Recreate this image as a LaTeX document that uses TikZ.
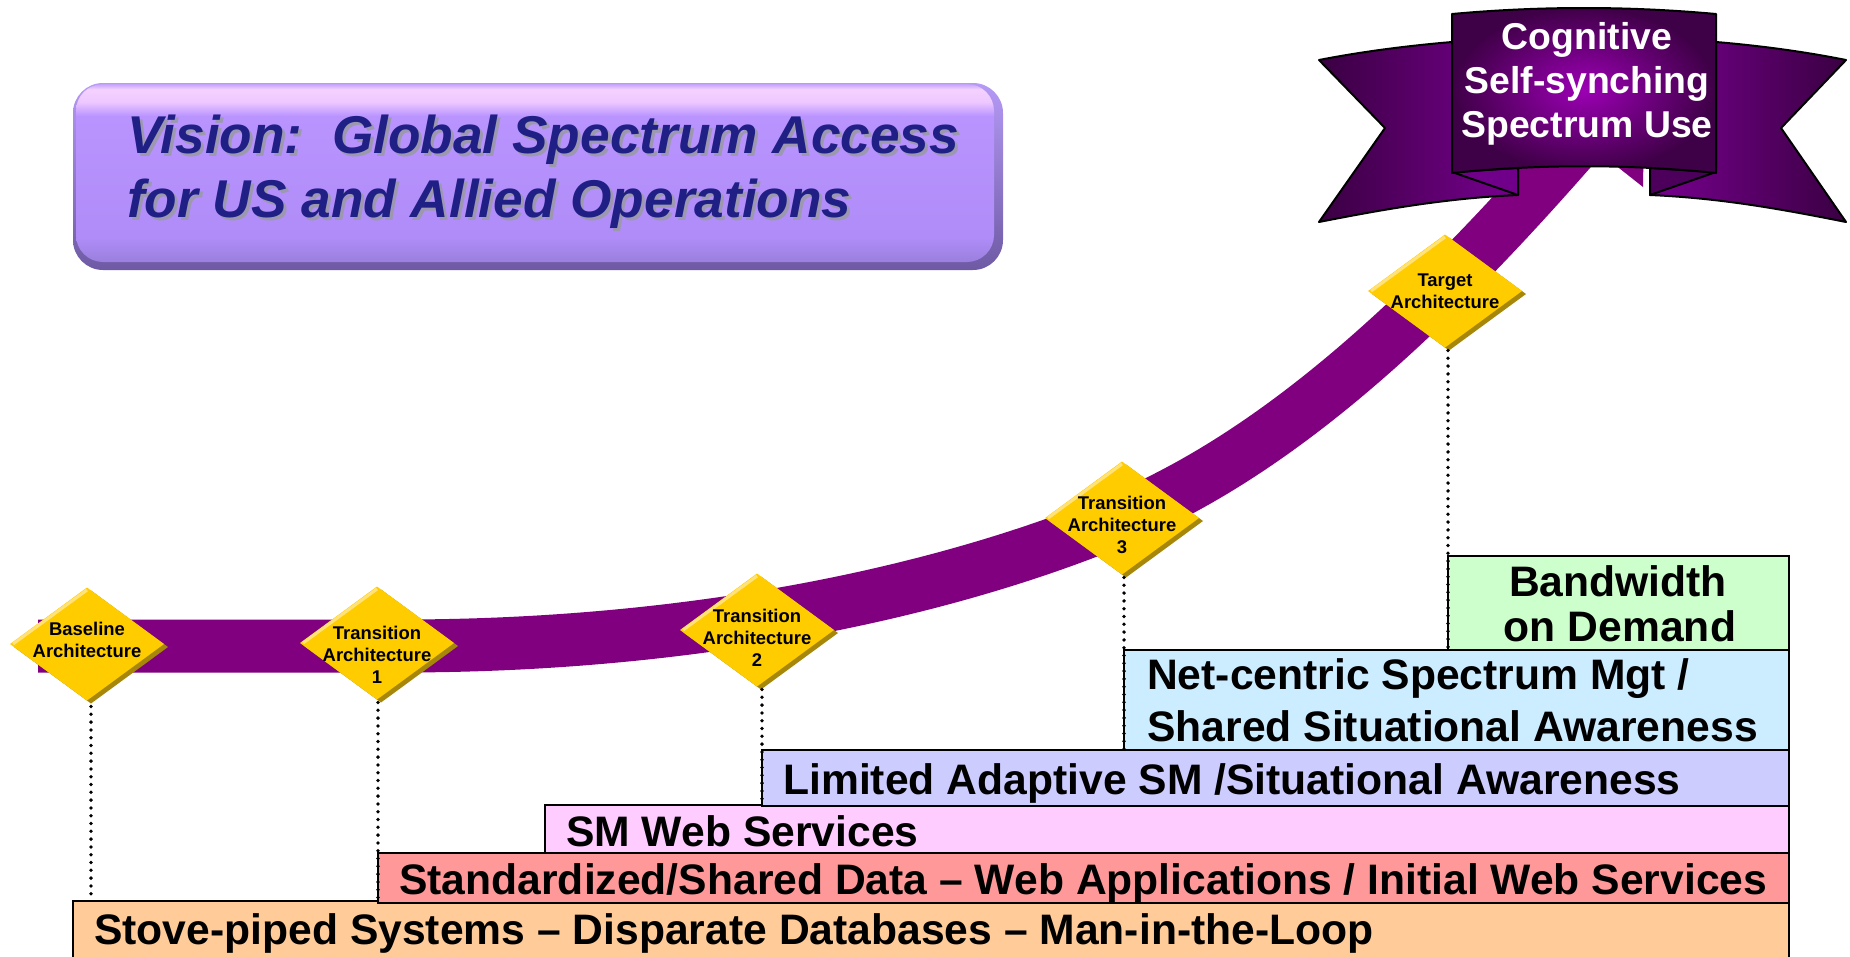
\documentclass[tikz,border=0pt]{standalone}
\usepackage{fontspec}
\setmainfont{Liberation Sans}
\usetikzlibrary{shapes.geometric}

\definecolor{bandpurple}{HTML}{800080}
\definecolor{gold}{HTML}{FFCC00}
\definecolor{goldshadow}{HTML}{A6870A}
\definecolor{goldhi}{HTML}{FFE27A}
\definecolor{cstove}{HTML}{FFCC99}
\definecolor{cstan}{HTML}{FF9999}
\definecolor{csm}{HTML}{FFCCFF}
\definecolor{clim}{HTML}{CCCCFF}
\definecolor{cnet}{HTML}{CCECFF}
\definecolor{cbw}{HTML}{CCFFCC}
\definecolor{navy}{HTML}{1F1F85}
\definecolor{tshadow}{HTML}{9C98B0}
\definecolor{tfbot}{HTML}{9A80DE}
\definecolor{tface2}{HTML}{B08CF8}
\definecolor{tface}{HTML}{B994FF}
\definecolor{tfhi}{HTML}{EEC8FF}
\definecolor{tfhi2}{HTML}{F4D2FF}
\definecolor{tftop}{HTML}{C4A2FF}
\definecolor{touttop}{HTML}{B59AF6}
\definecolor{toutbot}{HTML}{6E5AA4}
\definecolor{bnin}{HTML}{9C00B4}
\definecolor{bnout}{HTML}{3E0046}
\definecolor{wingdark}{HTML}{3A0042}
\definecolor{winglight}{HTML}{780090}
\definecolor{foldL}{HTML}{70008A}
\definecolor{foldR}{HTML}{4C005C}

\pgfdeclareverticalshading{tfaceshade}{100bp}{color(0bp)=(tfbot); color(25bp)=(tfbot); color(32bp)=(tface2); color(66bp)=(tface); color(70bp)=(tfhi); color(73.5bp)=(tfhi2); color(75bp)=(tftop); color(100bp)=(tftop)}

\begin{document}
\begin{tikzpicture}[x=1bp,y=-1bp,
  band/.style={line width=53bp, draw=bandpurple},
  bar/.style={draw=black, line width=2bp, anchor=north west, inner sep=0pt, outer sep=0pt},
  bartext/.style={font=\fontsize{42.8}{48}\selectfont\bfseries, text=black, inner sep=0pt, anchor=base west},
  gem/.style={diamond, minimum width=154bp, minimum height=113bp, inner sep=0pt, outer sep=0pt, fill=gold},
  gemshadow/.style={diamond, minimum width=154bp, minimum height=113bp, inner sep=0pt, outer sep=0pt, fill=goldshadow},
  gemhi/.style={draw=goldhi, line width=3bp},
  gemtext/.style={font=\fontsize{18.5}{22}\selectfont\bfseries, align=center, inner sep=0pt, text=black},
  dotline/.style={line width=3.8bp, dash pattern=on 0bp off 7.8bp, line cap=round, draw=black},
  ribbonline/.style={draw=black, line width=2bp, line join=round},
  titletext/.style={font=\fontsize{53.4}{65}\selectfont\bfseries\itshape, inner sep=0pt, anchor=base west},
]
\useasboundingbox (0,0) rectangle (1850,956);

% ---------- title box ----------
\shade[top color=touttop, bottom color=toutbot, rounded corners=30bp] (73,83) rectangle (1003,270);
\shade[shading=tfaceshade, rounded corners=27bp] (76,84) rectangle (994,262);
\node[titletext, text=tshadow] (t1s) at (130,156) {Vision:\ \ Global Spectrum Access};
\node[titletext, text=tshadow] (t2s) at (130,220) {for US and Allied Operations};
\node[titletext, text=navy] (t1) at (127,153) {Vision:\ \ Global Spectrum Access};
\node[titletext, text=navy] (t2) at (127,217) {for US and Allied Operations};

% ---------- bars ----------
\node[bar, fill=cstove, minimum width=1716bp, minimum height=62bp] (stove) at (73,901) {};
\node[bar, fill=cstan, minimum width=1411bp, minimum height=50bp] (stan) at (378,853) {};
\node[bar, fill=csm, minimum width=1244bp, minimum height=48bp] (sm) at (545,805) {};
\node[bar, fill=clim, minimum width=1027bp, minimum height=56bp] (lim) at (762,750) {};
\node[bar, fill=cnet, minimum width=665bp, minimum height=100bp] (net) at (1124,650) {};
\node[bar, fill=cbw, minimum width=341bp, minimum height=94bp] (bw) at (1448,556) {};

\node[bartext] (stovet) at (94,944) {Stove-piped Systems – Disparate Databases – Man-in-the-Loop};
\node[bartext] (stant) at (399,894) {Standardized/Shared Data – Web Applications / Initial Web Services};
\node[bartext] (smt) at (566,846) {SM Web Services};
\node[bartext] (limt) at (783,794) {Limited Adaptive SM /Situational Awareness};
\node[bartext] (net1) at (1147,689) {Net-centric Spectrum Mgt /};
\node[bartext] (net2) at (1147,741) {Shared Situational Awareness};
\node[bartext, anchor=base] (bw1) at (1618,596) {Bandwidth};
\node[bartext, anchor=base] (bw2) at (1620,641) {on Demand};

% ---------- band ----------
\draw[band] (38,646) -- (400,646) .. controls (700,646) and (950,590) .. (1122,518)
   .. controls (1290,447) and (1440,300) .. (1581,138);
\fill[bandpurple] (1519,89) -- (1645,58) -- (1643,187) -- cycle;

% ---------- diamonds ----------
\node[gemshadow] (d0s) at (91,647) {};
\node[gem] (d0) at (87,644) {};
\node[gemshadow] (d1s) at (381,646) {};
\node[gem] (d1) at (377,643) {};
\node[gemshadow] (d2s) at (761,633) {};
\node[gem] (d2) at (757,630) {};
\node[gemshadow] (d3s) at (1126,521) {};
\node[gem] (d3) at (1122,518) {};
\node[gemshadow] (d4s) at (1449,294) {};
\node[gem] (d4) at (1445,291) {};
\foreach \d in {d0,d1,d2,d3,d4}{
  \draw[gemhi] ([xshift=3bp]\d.west) -- ([yshift=-2.5bp]\d.north);
}
\node[gemtext] (d0t) at (87,640) {Baseline\\Architecture};
\node[gemtext] (d1t) at (377,655) {Transition\\Architecture\\1};
\node[gemtext] (d2t) at (757,638) {Transition\\Architecture\\2};
\node[gemtext] (d3t) at (1122,525) {Transition\\Architecture\\3};
\node[gemtext] (d4t) at (1445,291) {Target\\Architecture};

% ---------- dotted connectors ----------
\draw[dotline] ([yshift=-3bp]d0s.south) -- (d0s.south |- stove.north);
\draw[dotline] (d1s.south -| stan.west) -- (stan.south west);
\draw[dotline] (d2s.south -| lim.west) -- (lim.south west);
\draw[dotline] (d3s.south -| net.west) -- (net.south west);
\draw[dotline] (d4s.south -| bw.west) -- (bw.south west);

% ---------- banner ----------
\shade[ribbonline, left color=wingdark, right color=winglight]
  (1452,42) .. controls (1405,46) and (1360,52) .. (1319,60) -- (1385,128) -- (1319,222)
  .. controls (1390,208) and (1450,198) .. (1518,195) -- (1518,168) -- (1452,168) -- cycle;
\shade[ribbonline, left color=winglight, right color=wingdark]
  (1716,42) .. controls (1763,46) and (1806,52) .. (1846,60) -- (1781,128) -- (1846,222)
  .. controls (1776,208) and (1718,198) .. (1650,195) -- (1650,168) -- (1716,168) -- cycle;
\fill[ribbonline, fill=foldL] (1452,172) -- (1518,195) -- (1518,168) -- cycle;
\fill[ribbonline, fill=foldR] (1716,172) -- (1650,195) -- (1650,168) -- cycle;
\shade[ribbonline, inner color=bnin, outer color=bnout]
  (1452,14) .. controls (1540,6) and (1628,6) .. (1716,14) -- (1716,173)
  .. controls (1628,164) and (1540,164) .. (1452,173) -- cycle;
\node[font=\fontsize{37.5}{44.5}\selectfont\bfseries, text=white, align=center, inner sep=0pt] (btxt) at (1587,84)
  {Cognitive\\Self-synching\\Spectrum Use};
\end{tikzpicture}
\end{document}
